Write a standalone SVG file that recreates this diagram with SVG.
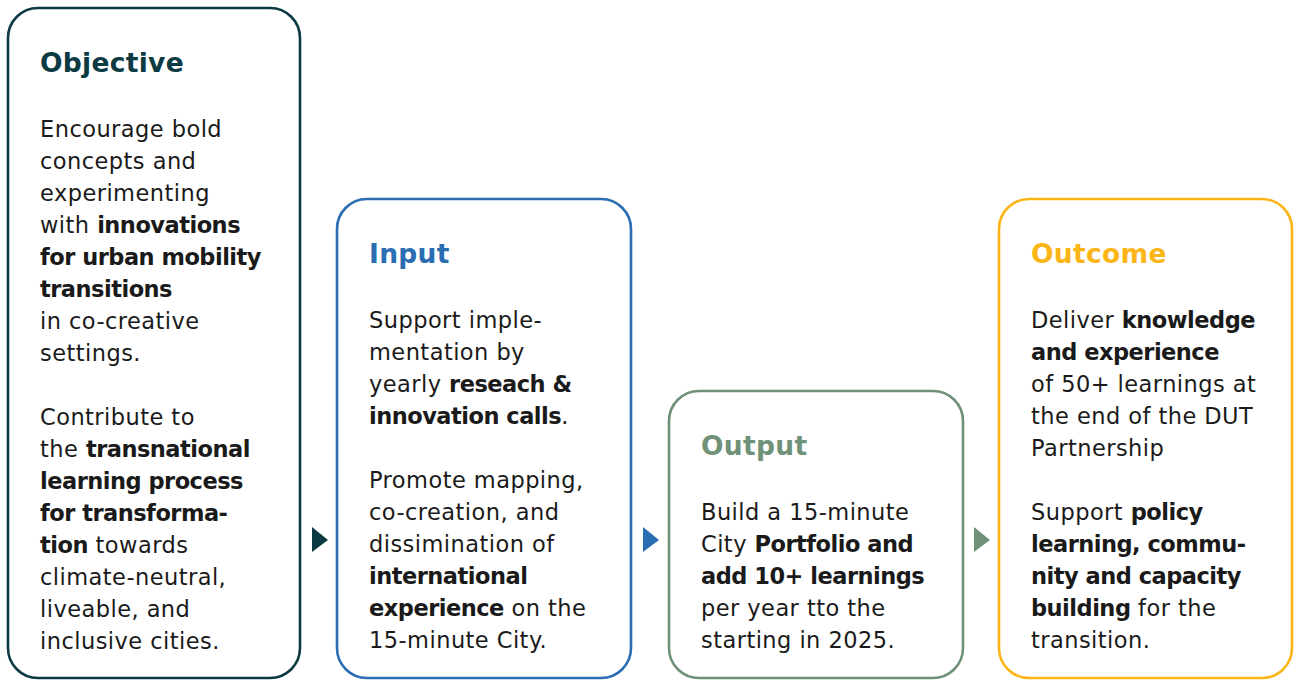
<svg xmlns="http://www.w3.org/2000/svg" width="1294" height="680" viewBox="0 0 1294 680">
<style>
.box{fill:#fff;stroke-width:2.6}
.h{font-family:"DejaVu Sans",sans-serif;font-weight:bold;font-size:26.5px;letter-spacing:0.3px}
.t{font-family:"DejaVu Sans",sans-serif;font-size:22.5px;fill:#1a1a1a;letter-spacing:0.45px}
.b{font-weight:bold;letter-spacing:-0.5px}
</style>
<rect width="1294" height="680" fill="#fff"/>
<g id="objective">
<rect class="box" x="8" y="8" width="292" height="670" rx="30" stroke="#0b3a43"/>
<text class="h" x="40" y="72" fill="#0b3a43">Objective</text>
<text class="t">
<tspan x="40" y="137">Encourage bold</tspan>
<tspan x="40" y="169">concepts and</tspan>
<tspan x="40" y="201">experimenting</tspan>
<tspan x="40" y="233">with <tspan class="b">innovations</tspan></tspan>
<tspan x="40" y="265" class="b">for urban mobility</tspan>
<tspan x="40" y="297" class="b">transitions</tspan>
<tspan x="40" y="329">in co-creative</tspan>
<tspan x="40" y="361">settings.</tspan>
<tspan x="40" y="425">Contribute to</tspan>
<tspan x="40" y="457">the <tspan class="b">transnational</tspan></tspan>
<tspan x="40" y="489" class="b">learning process</tspan>
<tspan x="40" y="521" class="b">for transforma-</tspan>
<tspan x="40" y="553"><tspan class="b">tion</tspan> towards</tspan>
<tspan x="40" y="585">climate-neutral,</tspan>
<tspan x="40" y="617">liveable, and</tspan>
<tspan x="40" y="649">inclusive cities.</tspan>
</text>
</g>
<g id="input">
<rect class="box" x="337" y="199" width="294" height="479" rx="30" stroke="#2a6db3"/>
<text class="h" x="369" y="263" fill="#2a6db3">Input</text>
<text class="t">
<tspan x="369" y="328">Support imple-</tspan>
<tspan x="369" y="360">mentation by</tspan>
<tspan x="369" y="392">yearly <tspan class="b">reseach &amp;</tspan></tspan>
<tspan x="369" y="424"><tspan class="b">innovation calls</tspan>.</tspan>
<tspan x="369" y="488">Promote mapping,</tspan>
<tspan x="369" y="520">co-creation, and</tspan>
<tspan x="369" y="552">dissimination of</tspan>
<tspan x="369" y="584" class="b">international</tspan>
<tspan x="369" y="616"><tspan class="b">experience</tspan> on the</tspan>
<tspan x="369" y="648">15-minute City.</tspan>
</text>
</g>
<g id="output">
<rect class="box" x="669" y="391" width="294" height="287" rx="30" stroke="#6f9178"/>
<text class="h" x="701" y="455" fill="#6f9178">Output</text>
<text class="t">
<tspan x="701" y="520">Build a 15-minute</tspan>
<tspan x="701" y="552">City <tspan class="b">Portfolio and</tspan></tspan>
<tspan x="701" y="584" class="b">add 10+ learnings</tspan>
<tspan x="701" y="616">per year tto the</tspan>
<tspan x="701" y="648">starting in 2025.</tspan>
</text>
</g>
<g id="outcome">
<rect class="box" x="999" y="199" width="293" height="479" rx="30" stroke="#fbb516"/>
<text class="h" x="1031" y="263" fill="#fbb516">Outcome</text>
<text class="t">
<tspan x="1031" y="328">Deliver <tspan class="b">knowledge</tspan></tspan>
<tspan x="1031" y="360" class="b">and experience</tspan>
<tspan x="1031" y="392">of 50+ learnings at</tspan>
<tspan x="1031" y="424">the end of the DUT</tspan>
<tspan x="1031" y="456">Partnership</tspan>
<tspan x="1031" y="520">Support <tspan class="b">policy</tspan></tspan>
<tspan x="1031" y="552" class="b">learning, commu-</tspan>
<tspan x="1031" y="584" class="b">nity and capacity</tspan>
<tspan x="1031" y="616"><tspan class="b">building</tspan> for the</tspan>
<tspan x="1031" y="648">transition.</tspan>
</text>
</g>
<g id="connectors">
<polygon points="312,527 328,540 312,552" fill="#0b3a43"/>
<polygon points="643,527 659,540 643,552" fill="#2a6db3"/>
<polygon points="974,527 990,540 974,552" fill="#6f9178"/>
</g>
</svg>
